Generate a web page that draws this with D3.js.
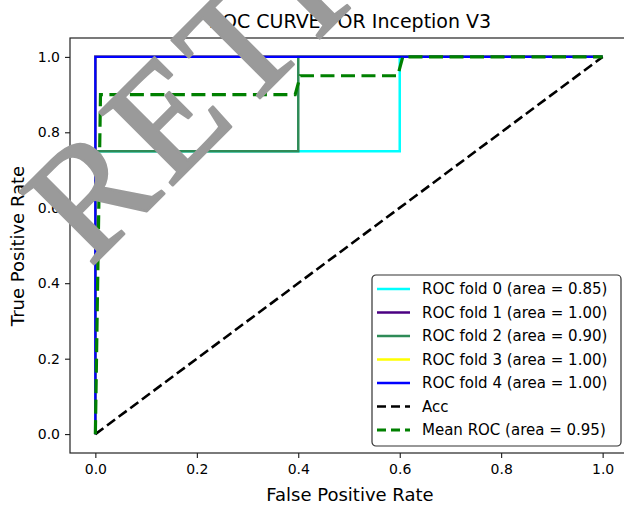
<!DOCTYPE html>
<html>
<head>
<meta charset="utf-8">
<script src="https://d3js.org/d3.v7.min.js"></script>
<style>
  body { margin: 0; background: #fff; }
  text { font-family: "DejaVu Sans", sans-serif; }
  text.mark { font-family: "Liberation Serif", "DejaVu Serif", serif; }
</style>
</head>
<body>
<div id="chart"></div>
<script>
// ROC points, [fpr, tpr]
const foldNames = ["ROC fold 0 (area = 0.85)", "ROC fold 1 (area = 1.00)", "ROC fold 2 (area = 0.90)",
                   "ROC fold 3 (area = 1.00)", "ROC fold 4 (area = 1.00)"];
const fold0 = [[0, 0], [0, 0.75], [0.6, 0.75], [0.6, 1], [1, 1]];
const fold1 = [[0, 0], [0, 1], [1, 1]];
const fold2 = [[0, 0], [0, 0.75], [0.4, 0.75], [0.4, 1], [1, 1]];
const fold3 = [[0, 0], [0, 1], [1, 1]];
const fold4 = [[0, 0], [0, 1], [1, 1]];
const chance = [[0, 0], [1, 1]];
const meanRoc = [[0, 0], [0.0101, 0.9], [0.3939, 0.9], [0.404, 0.95], [0.596, 0.95], [0.606, 1], [1, 1]];
const ticks = [0, 0.2, 0.4, 0.6, 0.8, 1.0];

const width = 624, height = 507;
const margin = {top: 38, right: -4, bottom: 54, left: 70};

const svg = d3.select('#chart').append('svg')
  .attr('width', width)
  .attr('height', height);

const x = d3.scaleLinear().domain([-0.05, 1.05]).range([margin.left, width - margin.right]);
const y = d3.scaleLinear().domain([-0.05, 1.05]).range([height - margin.bottom, margin.top]);

const line = d3.line().x(d => x(d[0])).y(d => y(d[1]));

// series in drawing order
const series = [
  {name: foldNames[0], data: fold0, color: '#00ffff', w: 2.5, dash: null},
  {name: foldNames[1], data: fold1, color: '#4b0082', w: 2.5, dash: null},
  {name: foldNames[2], data: fold2, color: '#2e8b57', w: 2.5, dash: null},
  {name: foldNames[3], data: fold3, color: '#ffff00', w: 2.5, dash: null},
  {name: foldNames[4], data: fold4, color: '#0000ff', w: 2.5, dash: null},
  {name: 'Acc', data: chance, color: '#000000', w: 2.6, dash: '10,4.5'},
  {name: 'Mean ROC (area = 0.95)', data: meanRoc, color: '#008000', w: 3.2, dash: '14,6.5'}
];

svg.append('g')
  .selectAll('path')
  .data(series)
  .join('path')
  .attr('d', d => line(d.data))
  .attr('fill', 'none')
  .attr('stroke', d => d.color)
  .attr('stroke-width', d => d.w)
  .attr('stroke-dasharray', d => d.dash);

// axes
const xAxis = svg.append('g')
  .attr('transform', `translate(0, ${height - margin.bottom})`)
  .call(d3.axisBottom(x).tickValues(ticks).tickFormat(d3.format('.1f')).tickSize(5).tickPadding(6));
const yAxis = svg.append('g')
  .attr('transform', `translate(${margin.left}, 0)`)
  .call(d3.axisLeft(y).tickValues(ticks).tickFormat(d3.format('.1f')).tickSize(5).tickPadding(5));
[xAxis, yAxis].forEach(a => {
  a.selectAll('text').attr('font-family', '"DejaVu Sans", sans-serif').attr('font-size', 14).attr('fill', '#000');
  a.selectAll('line').attr('stroke', '#000');
  a.select('.domain').remove();
});

// frame
svg.append('rect')
  .attr('x', x(-0.05)).attr('y', y(1.05))
  .attr('width', x(1.05) - x(-0.05)).attr('height', y(-0.05) - y(1.05))
  .attr('fill', 'none').attr('stroke', '#222').attr('stroke-width', 1.2);

// labels
svg.append('text')
  .attr('x', 350).attr('y', 28)
  .attr('text-anchor', 'middle').attr('font-size', 19)
  .text('ROC CURVE FOR Inception V3');
svg.append('text')
  .attr('x', 350).attr('y', 501)
  .attr('text-anchor', 'middle').attr('font-size', 18)
  .text('False Positive Rate');
svg.append('text')
  .attr('transform', 'translate(24, 246) rotate(-90)')
  .attr('text-anchor', 'middle').attr('font-size', 18)
  .text('True Positive Rate');

// legend
const legend = svg.append('g').attr('transform', 'translate(372, 275)');
legend.append('rect')
  .attr('width', 249).attr('height', 171)
  .attr('rx', 4)
  .attr('fill', '#fff').attr('stroke', '#333').attr('stroke-width', 1.2);
const rows = legend.selectAll('g.row')
  .data(series)
  .join('g')
  .attr('class', 'row')
  .attr('transform', (d, i) => `translate(0, ${14 + i * 23.5})`);
rows.append('line')
  .attr('x1', 5).attr('x2', 38)
  .attr('stroke', d => d.color)
  .attr('stroke-width', d => d.w)
  .attr('stroke-dasharray', d => d.dash ? '9,5' : null);
rows.append('text')
  .attr('x', 50).attr('dy', '0.35em')
  .attr('font-size', 15)
  .text(d => d.name);

// watermark on top
svg.append('text')
  .attr('class', 'mark')
  .attr('transform', 'translate(90, 268) rotate(-45)')
  .attr('font-size', 158)
  .attr('letter-spacing', 7)
  .attr('fill', '#9a9a9a')
  .attr('stroke', '#9a9a9a')
  .attr('stroke-width', 2.5)
  .attr('stroke-linejoin', 'round')
  .text('RETRACTED');
</script>
</body>
</html>
